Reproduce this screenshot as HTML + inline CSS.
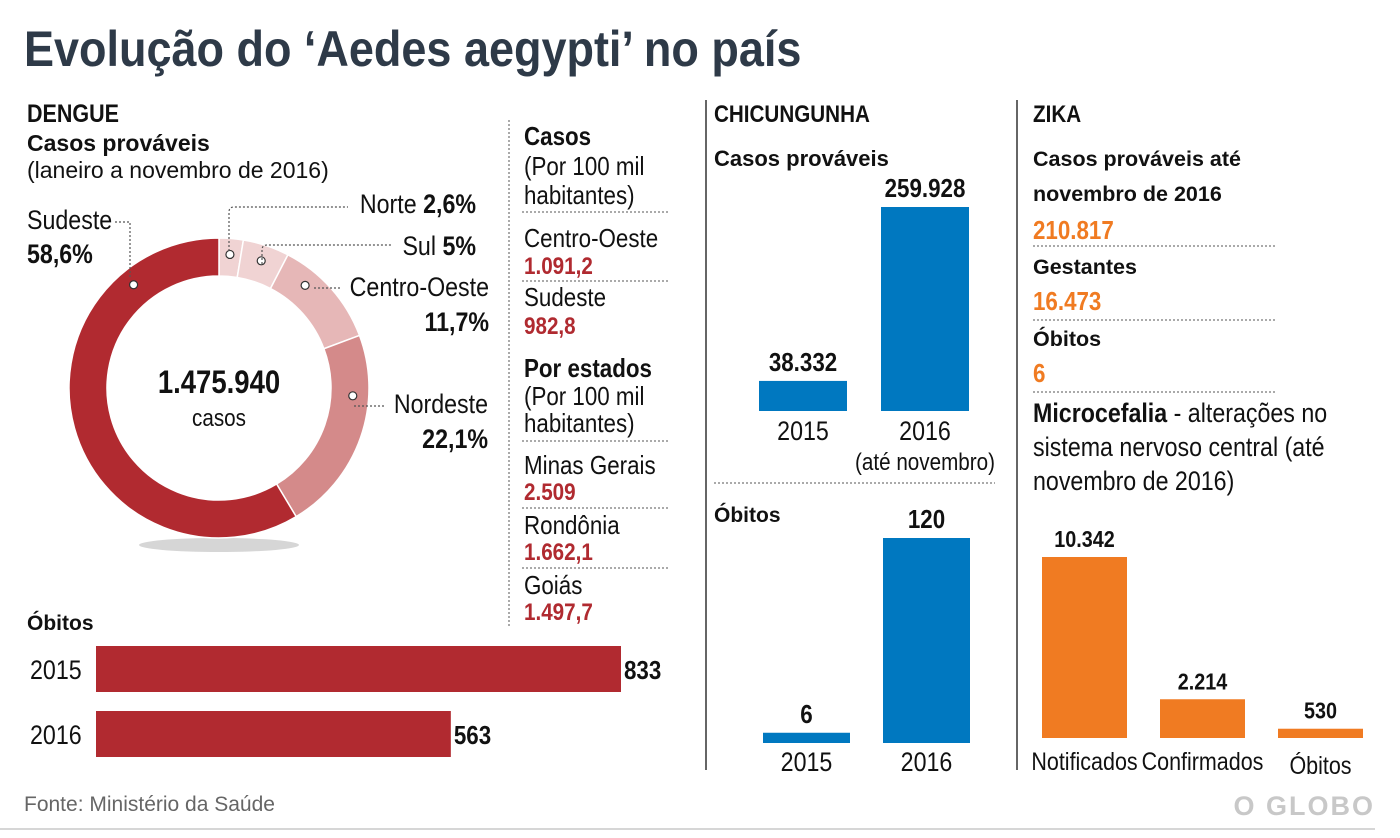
<!DOCTYPE html>
<html><head><meta charset="utf-8">
<style>
body{margin:0;background:#fff;}
svg{display:block;}
.n{font-family:"Liberation Sans Narrow","Liberation Sans",sans-serif;}
.s{font-family:"Liberation Sans",sans-serif;}
.b{font-weight:bold;}
.red{fill:#b02a30;}
.or{fill:#f07b22;}
</style></head>
<body>
<svg id="c" width="1400" height="838" viewBox="0 0 1400 838" xmlns="http://www.w3.org/2000/svg">
<g fill="#111">
<text class="n b" data-sx="0.9" x="24" y="66" font-size="50" fill="#2e3a48">Evolução do ‘Aedes aegypti’ no país</text>

<text class="n b" x="27" y="122" font-size="25">DENGUE</text>
<text class="s b" x="27" y="151" font-size="23">Casos prováveis</text>
<text class="s" x="27" y="178" font-size="23">(laneiro a novembro de 2016)</text>
</g>
<g id="donut"></g>
<g fill="#111">
<text class="n b" x="219" y="393" font-size="32" text-anchor="middle">1.475.940</text>
<text class="n" x="219" y="426" font-size="24" text-anchor="middle">casos</text>
<text class="n" x="27" y="229" font-size="27">Sudeste</text>
<text class="n b" x="27" y="263" font-size="27">58,6%</text>
<text class="n" x="476" y="213" font-size="27" text-anchor="end">Norte <tspan font-weight="bold">2,6%</tspan></text>
<text class="n" x="476" y="255" font-size="27" text-anchor="end">Sul <tspan font-weight="bold">5%</tspan></text>
<text class="n" x="489" y="296" font-size="27" text-anchor="end">Centro-Oeste</text>
<text class="n b" x="489" y="331" font-size="27" text-anchor="end">11,7%</text>
<text class="n" x="488" y="413" font-size="27" text-anchor="end">Nordeste</text>
<text class="n b" x="488" y="448" font-size="27" text-anchor="end">22,1%</text>
</g>
<g fill="none" stroke="#555" stroke-width="1.2" stroke-dasharray="2,2">
<path d="M115 222 H130 V278"/>
<path d="M229 251 V212 Q229 207 234 207 H348"/>
<path d="M262 264 V250 Q262 245 267 245 H392"/>
<path d="M314 288 H342"/>
<path d="M354 406 H386"/>
</g>

<!-- middle column -->
<line x1="509" y1="120" x2="509" y2="628" stroke="#555" stroke-dasharray="2,2"/>
<g fill="#111" class="n" font-size="26">
<text class="n b" x="524" y="145">Casos</text>
<text class="n" x="524" y="175">(Por 100 mil</text>
<text class="n" x="524" y="204">habitantes)</text>
<text class="n" x="524" y="247">Centro-Oeste</text>
<text class="n b red" x="524" y="274" font-size="24">1.091,2</text>
<text class="n" x="524" y="306">Sudeste</text>
<text class="n b red" x="524" y="334" font-size="24">982,8</text>
<text class="n b" x="524" y="377">Por estados</text>
<text class="n" x="524" y="405">(Por 100 mil</text>
<text class="n" x="524" y="432">habitantes)</text>
<text class="n" x="524" y="474">Minas Gerais</text>
<text class="n b red" x="524" y="500" font-size="24">2.509</text>
<text class="n" x="524" y="534">Rondônia</text>
<text class="n b red" x="524" y="560" font-size="24">1.662,1</text>
<text class="n" x="524" y="594">Goiás</text>
<text class="n b red" x="524" y="620" font-size="24">1.497,7</text>
</g>
<g stroke="#555" stroke-dasharray="2,2">
<line x1="522" y1="212" x2="670" y2="212"/><line x1="522" y1="281" x2="670" y2="281"/>
<line x1="522" y1="441" x2="670" y2="441"/><line x1="522" y1="508" x2="670" y2="508"/>
<line x1="522" y1="568" x2="670" y2="568"/>
<line x1="714" y1="483" x2="995" y2="483"/>
<line x1="1033" y1="246" x2="1275" y2="246"/><line x1="1033" y1="320" x2="1275" y2="320"/>
<line x1="1033" y1="392" x2="1275" y2="392"/>
</g>
<line x1="706" y1="100" x2="706" y2="770" stroke="#333" stroke-width="1.5"/>
<line x1="1017" y1="100" x2="1017" y2="770" stroke="#333" stroke-width="1.5"/>

<g fill="#111">
<text class="s b" x="27" y="630" font-size="21">Óbitos</text>
<text class="n b" x="714" y="122" font-size="24">CHICUNGUNHA</text>
<text class="s b" x="714" y="166" font-size="22">Casos prováveis</text>
<text class="s b" x="714" y="522" font-size="21">Óbitos</text>
<text class="n" x="925" y="470" font-size="24" text-anchor="middle">(até novembro)</text>
<text class="n b" x="1033" y="122" font-size="24">ZIKA</text>
<text class="s b" x="1033" y="166" font-size="21.5">Casos prováveis até</text>
<text class="s b" x="1033" y="201" font-size="21.5">novembro de 2016</text>
<text class="n b or" x="1033" y="239" font-size="26">210.817</text>
<text class="s b" x="1033" y="274" font-size="21.5">Gestantes</text>
<text class="n b or" x="1033" y="310" font-size="26">16.473</text>
<text class="s b" x="1033" y="346" font-size="21.5">Óbitos</text>
<text class="n b or" x="1033" y="382" font-size="26">6</text>
<text class="n" x="1033" y="422" font-size="27"><tspan font-weight="bold">Microcefalia</tspan> - alterações no</text>
<text class="n" x="1033" y="456" font-size="27">sistema nervoso central (até</text>
<text class="n" x="1033" y="490" font-size="27">novembro de 2016)</text>
<text class="s" x="24" y="811" font-size="21" fill="#666">Fonte: Ministério da Saúde</text>
<text class="s b" x="1375" y="815" font-size="27" fill="#c8c8c8" text-anchor="end" letter-spacing="2">O GLOBO</text>
</g>
<line x1="0" y1="829" x2="1375" y2="829" stroke="#d6d6d6" stroke-width="2"/>
<g id="bars"></g>
</svg>
<script>
const regions = ['Norte','Sul','Centro-Oeste','Nordeste','Sudeste'];
const shares = [2.6, 5, 11.7, 22.1, 58.6];
const dengueYears = ['2015','2016'];
const dengueDeaths = [833, 563];
const chikYears = ['2015','2016'];
const chikCases = [38332, 259928];
const chikCaseLabels = ['38.332','259.928'];
const chikDeaths = [6, 120];
const zikaCats = ['Notificados','Confirmados','Óbitos'];
const zikaMicro = [10342, 2214, 530];
const zikaMicroLabels = ['10.342','2.214','530'];

const NS='http://www.w3.org/2000/svg';
function mk(tag, attrs, parent){const e=document.createElementNS(NS,tag);for(const k in attrs)e.setAttribute(k,attrs[k]);parent.appendChild(e);return e;}
const colors=['#f0d3d3','#f0d3d3','#e6b7b7','#d48a8a','#b12a30'];
const cx=219, cy=388, R=150, r=112;
const donut=document.getElementById('donut');
mk('ellipse',{cx:cx,cy:cy+157,rx:80,ry:7,fill:'#777',opacity:0.3},donut);
const tot=shares.reduce((a,b)=>a+b,0);
let a0=0;
function pt(rad,a){return [cx+rad*Math.sin(a), cy-rad*Math.cos(a)];}
shares.forEach((v,i)=>{
  const a1=a0+v/tot*2*Math.PI;
  const [x1,y1]=pt(R,a0),[x2,y2]=pt(R,a1),[x3,y3]=pt(r,a1),[x4,y4]=pt(r,a0);
  const lg=(a1-a0)>Math.PI?1:0;
  const p=mk('path',{d:`M${x1} ${y1}A${R} ${R} 0 ${lg} 1 ${x2} ${y2}L${x3} ${y3}A${r} ${r} 0 ${lg} 0 ${x4} ${y4}Z`,fill:colors[i],stroke:'#fff','stroke-width':1.5},donut);
  
  
  const span=a1-a0;
  const ma = span>Math.PI ? a1-0.11*2*Math.PI : (span>0.5 ? a0+span*0.3 : (a0+a1)/2);
  const [dx,dy]=pt(134,ma);
  const d=mk('circle',{cx:dx,cy:dy,r:4,fill:'#fff',stroke:'#333','stroke-width':1.2},donut);
  
  
  a0=a1;
});

const bars=document.getElementById('bars');
function txt(s,x,y,size,cls,anchor,fill){const t=mk('text',{x:x,y:y,'font-size':size,class:cls,'text-anchor':anchor||'start',fill:fill||'#111'},bars);t.textContent=s;return t;}

const dx0=96, dScale=525/833;
dengueYears.forEach((y,i)=>{
  const top=646+i*65;
  const w=dengueDeaths[i]*dScale;
  const b=mk('rect',{x:dx0,y:top,width:w,height:46,fill:'#b12a30'},bars);
  
  
  const l=txt(y,30,top+33,27,'n');
  
  
  const v=txt(String(dengueDeaths[i]),dx0+w+3,top+33,26,'n b');
  
  
});

function vbars(vals,labels,cats,xs,bw,base,scale,color,prefix,catY,valSize,catSize){
  vals.forEach((v,i)=>{
    const h=v*scale;
    const b=mk('rect',{x:xs[i],y:base-h,width:bw,height:h,fill:color},bars);
    
    
    const t=txt(labels[i],xs[i]+bw/2,base-h-10,valSize,'n b','middle');
    
    
    const c=txt(cats[i],xs[i]+bw/2,catY+(cats[i]==='Óbitos'?4:0),catSize,'n','middle');
    
    
  });
}
vbars(chikCases,chikCaseLabels,chikYears,[759,881],88,411,204/259928,'#0078c0','chik-cases',440,26,27);
vbars(chikDeaths,chikDeaths.map(String),chikYears,[763,883],87,743,205/120,'#0078c0','chik-deaths',771,26,27);
vbars(zikaMicro,zikaMicroLabels,zikaCats,[1042,1160,1278],85,738,181/10342,'#f07b22','zika-micro',770,23,25);

// condense narrow texts
document.querySelectorAll('text.n').forEach(t=>{
  const sx=t.getAttribute('data-sx')||'0.86';
  const x=t.getAttribute('x'), y=t.getAttribute('y');
  t.setAttribute('x',0); t.setAttribute('y',0);
  t.setAttribute('transform',`translate(${x} ${y}) scale(${sx} 1)`);
});
</script>
</body></html>
